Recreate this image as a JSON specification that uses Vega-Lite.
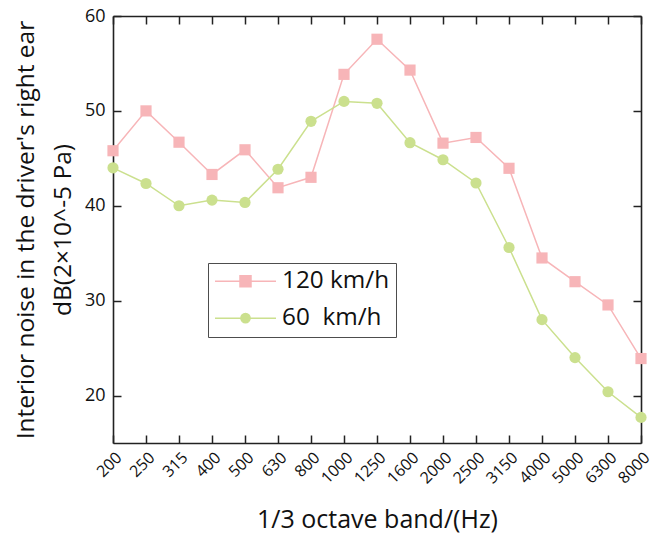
{
  "$schema": "https://vega.github.io/schema/vega-lite/v6.json",
  "width": 528,
  "height": 427,
  "autosize": {"type": "none"},
  "padding": {"left": 113, "top": 16, "right": 13, "bottom": 91},
  "background": "white",
  "config": {"view": {"stroke": null}, "font": "Open Sans"},
  "data": {
    "values": [
      {"f": "200", "s": "120 km/h", "v": 45.8},
      {"f": "250", "s": "120 km/h", "v": 50.0},
      {"f": "315", "s": "120 km/h", "v": 46.7},
      {"f": "400", "s": "120 km/h", "v": 43.3},
      {"f": "500", "s": "120 km/h", "v": 45.9},
      {"f": "630", "s": "120 km/h", "v": 41.9},
      {"f": "800", "s": "120 km/h", "v": 43.0},
      {"f": "1000", "s": "120 km/h", "v": 53.85},
      {"f": "1250", "s": "120 km/h", "v": 57.55},
      {"f": "1600", "s": "120 km/h", "v": 54.3},
      {"f": "2000", "s": "120 km/h", "v": 46.6},
      {"f": "2500", "s": "120 km/h", "v": 47.2},
      {"f": "3150", "s": "120 km/h", "v": 43.95},
      {"f": "4000", "s": "120 km/h", "v": 34.5},
      {"f": "5000", "s": "120 km/h", "v": 32.0},
      {"f": "6300", "s": "120 km/h", "v": 29.55},
      {"f": "8000", "s": "120 km/h", "v": 23.9},
      {"f": "200", "s": "60 km/h", "v": 44.0},
      {"f": "250", "s": "60 km/h", "v": 42.35},
      {"f": "315", "s": "60 km/h", "v": 40.0},
      {"f": "400", "s": "60 km/h", "v": 40.6},
      {"f": "500", "s": "60 km/h", "v": 40.35},
      {"f": "630", "s": "60 km/h", "v": 43.85},
      {"f": "800", "s": "60 km/h", "v": 48.9},
      {"f": "1000", "s": "60 km/h", "v": 51.0},
      {"f": "1250", "s": "60 km/h", "v": 50.8},
      {"f": "1600", "s": "60 km/h", "v": 46.65},
      {"f": "2000", "s": "60 km/h", "v": 44.85},
      {"f": "2500", "s": "60 km/h", "v": 42.4},
      {"f": "3150", "s": "60 km/h", "v": 35.6},
      {"f": "4000", "s": "60 km/h", "v": 28.0},
      {"f": "5000", "s": "60 km/h", "v": 24.0},
      {"f": "6300", "s": "60 km/h", "v": 20.4},
      {"f": "8000", "s": "60 km/h", "v": 17.7}
    ]
  },
  "encoding": {
    "color": {
      "field": "s",
      "type": "nominal",
      "scale": {"domain": ["120 km/h", "60 km/h"], "range": ["#f7b5b8", "#cbe08e"]},
      "legend": {
        "orient": "none",
        "legendX": 95,
        "legendY": 247,
        "title": null,
        "labelFontSize": 24.3,
        "labelFont": "Open Sans",
        "labelColor": "#111111",
        "strokeColor": "#4d4d4d",
        "fillColor": "white",
        "padding": 6,
        "rowPadding": 12,
        "symbolSize": 121,
        "labelExpr": "datum.label == '60 km/h' ? '\u00a060\u00a0\u00a0km/h' : datum.label",
        "encode": {
          "symbols": {
            "update": {
              "shape": {"signal": "datum.value === '120 km/h' ? 'M-5.545,0H5.545M-1,-1H1V1H-1Z' : 'M-5.545,0H5.545M0.836,0A0.836,0.836,0,1,1,-0.836,0A0.836,0.836,0,1,1,0.836,0Z'"},
              "size": {"value": 121},
              "x": {"value": 31.5},
              "strokeWidth": {"value": 1.5},
              "fill": {"signal": "scale('color', datum.value)"},
              "stroke": {"signal": "scale('color', datum.value)"},
              "opacity": {"value": 1},
              "fillOpacity": {"value": 1}
            }
          },
          "labels": {"update": {"x": {"value": 68}}}
        }
      }
    }
  },
  "layer": [
    {
      "mark": {"type": "line", "strokeWidth": 1.5},
      "encoding": {
        "x": {
          "field": "f",
          "type": "ordinal",
          "sort": null,
          "scale": {"type": "point", "padding": 0},
          "axis": {
            "orient": "bottom",
            "title": "1/3 octave band/(Hz)",
            "titleFontSize": 25,
            "titleFontWeight": "normal",
            "titleColor": "#111111",
            "titleBaseline": "alphabetic",
            "titleY": 84,
            "labelAngle": -45,
            "labelAlign": "right",
            "labelBaseline": "top",
            "labelFontSize": 16,
            "labelColor": "#111111",
            "labelPadding": 14,
            "labelOverlap": false,
            "tickSize": -8,
            "tickColor": "#222222",
            "tickWidth": 1.5,
            "domainColor": "#222222",
            "domainWidth": 1.6,
            "grid": false
          }
        },
        "y": {
          "field": "v",
          "type": "quantitative",
          "scale": {"domain": [15, 60], "nice": false, "zero": false},
          "axis": {
            "orient": "left",
            "values": [20, 30, 40, 50, 60],
            "title": ["Interior noise in the driver's right ear", "dB(2×10^-5 Pa)"],
            "titleFontSize": 24.5,
            "titleFontWeight": "normal",
            "titleColor": "#111111",
            "titleAngle": -90,
            "titleBaseline": "alphabetic",
            "titleLineHeight": 37,
            "titleX": -80,
            "labelFontSize": 18,
            "labelColor": "#111111",
            "labelPadding": 16,
            "tickSize": -8,
            "tickColor": "#222222",
            "tickWidth": 1.5,
            "domainColor": "#222222",
            "domainWidth": 1.6,
            "grid": false
          }
        }
      }
    },
    {
      "mark": {"type": "point", "filled": true, "opacity": 1, "size": 125},
      "encoding": {
        "x": {
          "field": "f",
          "type": "ordinal",
          "sort": null,
          "scale": {"type": "point", "padding": 0},
          "axis": {
            "orient": "top",
            "title": null,
            "labels": false,
            "tickSize": -8,
            "tickColor": "#222222",
            "tickWidth": 1.5,
            "domainColor": "#222222",
            "domainWidth": 1.6,
            "grid": false
          }
        },
        "y": {
          "field": "v",
          "type": "quantitative",
          "scale": {"domain": [15, 60], "nice": false, "zero": false},
          "axis": {
            "orient": "right",
            "values": [20, 30, 40, 50, 60],
            "title": null,
            "labels": false,
            "tickSize": -8,
            "tickColor": "#222222",
            "tickWidth": 1.5,
            "domainColor": "#222222",
            "domainWidth": 1.6,
            "grid": false
          }
        },
        "shape": {
          "condition": {"test": "datum.s === '120 km/h'", "value": "square"},
          "value": "circle"
        }
      }
    }
  ]
}
